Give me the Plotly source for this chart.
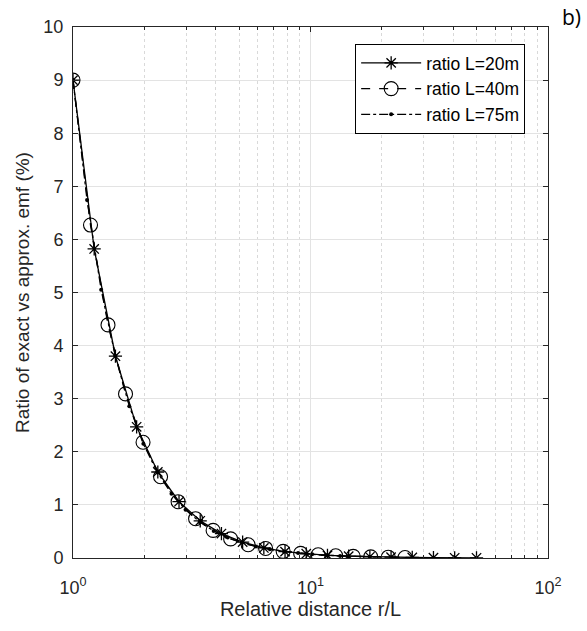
import plotly.graph_objects as go

# r/L values and ratio (%)
x_L20 = [1.000, 1.228, 1.509, 1.853, 2.276, 2.795, 3.433, 4.217, 5.179, 6.361,
         7.813, 9.596, 11.79, 14.48, 17.78, 21.84, 26.82, 32.94, 40.46, 50.0]
y_L20 = [9.0, 5.82, 3.80, 2.47, 1.62, 1.06, 0.70, 0.46, 0.30, 0.19,
         0.12, 0.08, 0.05, 0.035, 0.022, 0.015, 0.010, 0.006, 0.004, 0.003]

x_L40 = [1.000, 1.185, 1.404, 1.664, 1.972, 2.337, 2.770, 3.282, 3.890, 4.610,
         5.463, 6.474, 7.672, 9.092, 10.77, 12.77, 15.13, 17.93, 21.25, 25.0]
y_L40 = [9.0, 6.27, 4.39, 3.09, 2.18, 1.53, 1.06, 0.74, 0.52, 0.36,
         0.25, 0.18, 0.125, 0.087, 0.061, 0.043, 0.030, 0.021, 0.015, 0.010]

x_L75 = [1.000, 1.146, 1.314, 1.506, 1.726, 1.978, 2.267, 2.598, 2.978, 3.413,
         3.912, 4.483, 5.138, 5.889, 6.749, 7.735, 8.866, 10.16, 11.65, 13.33]
y_L75 = [9.0, 6.74, 5.05, 3.81, 2.86, 2.15, 1.61, 1.21, 0.91, 0.68,
         0.51, 0.385, 0.29, 0.217, 0.163, 0.123, 0.092, 0.069, 0.052, 0.039]

series_names = ["ratio L=20m", "ratio L=40m", "ratio L=75m"]

x_tickvals = [1, 10, 100]
x_ticktext = ["10<sup>0</sup>", "10<sup>1</sup>", "10<sup>2</sup>"]
x_minor_tickvals = [2, 3, 4, 5, 6, 7, 8, 9, 20, 30, 40, 50, 60, 70, 80, 90]
y_tickvals = list(range(0, 11))

FONT = "Liberation Sans, Arial, sans-serif"
AX = "#262626"

fig = go.Figure()
fig.add_trace(go.Scatter(
    x=x_L20, y=y_L20, name=series_names[0], mode="lines+markers",
    line=dict(color="black", width=1.3, dash="solid"),
    marker=dict(symbol="asterisk-open", size=11, color="black",
                line=dict(color="black", width=1.3))))
fig.add_trace(go.Scatter(
    x=x_L40, y=y_L40, name=series_names[1], mode="lines+markers",
    line=dict(color="black", width=1.3, dash="dash"),
    marker=dict(symbol="circle-open", size=14, color="black",
                line=dict(color="black", width=1.1))))
fig.add_trace(go.Scatter(
    x=x_L75, y=y_L75, name=series_names[2], mode="lines+markers",
    line=dict(color="black", width=1.3, dash="dashdot"),
    marker=dict(symbol="circle", size=4, color="black")))

fig.update_layout(
    width=587, height=631,
    margin=dict(l=73, r=39, t=27, b=73, autoexpand=False),
    paper_bgcolor="white", plot_bgcolor="white",
    font=dict(family=FONT, size=18, color=AX),
    showlegend=True,
    legend=dict(x=0.594, y=0.968, xanchor="left", yanchor="top",
                bgcolor="white", bordercolor="black", borderwidth=1,
                font=dict(size=17.5, color="black"),
                tracegroupgap=0, itemwidth=60),
    xaxis=dict(type="log", range=[0, 2], automargin=True,
               tickvals=x_tickvals, ticktext=x_ticktext,
               ticks="inside", ticklen=5, tickcolor=AX, ticklabelstandoff=13,
               showline=True, linecolor=AX, linewidth=1, mirror="ticks",
               showgrid=True, gridcolor="#e3e3e3", gridwidth=1,
               minor=dict(tickmode="array", tickvals=x_minor_tickvals,
                          ticks="inside", ticklen=3, tickcolor=AX,
                          showgrid=True, gridcolor="#d9d9d9", griddash="dot", gridwidth=1),
               zeroline=False,
               title=dict(text="Relative distance r/L", font=dict(size=20), standoff=2)),
    yaxis=dict(range=[0, 10], tickvals=y_tickvals, automargin=True,
               ticks="inside", ticklen=5, tickcolor=AX, ticklabelstandoff=5,
               showline=True, linecolor=AX, linewidth=1, mirror="ticks",
               showgrid=True, gridcolor="#e3e3e3", gridwidth=1,
               zeroline=False,
               title=dict(text="Ratio of exact vs approx. emf (%)", font=dict(size=19), standoff=8)),
    annotations=[dict(text="b)", x=1.05, y=1.019,
                      xref="paper", yref="paper", xanchor="center", yanchor="middle",
                      showarrow=False, borderpad=0,
                      font=dict(size=21, color="black", family="Open Sans, sans-serif"))],
)

# remove the browser's default 8px body margin so the figure fills the window exactly
fig.write_html("out.html",
               config={"displayModeBar": False},
               post_script="document.body.style.margin='0';document.body.style.overflow='hidden';")
